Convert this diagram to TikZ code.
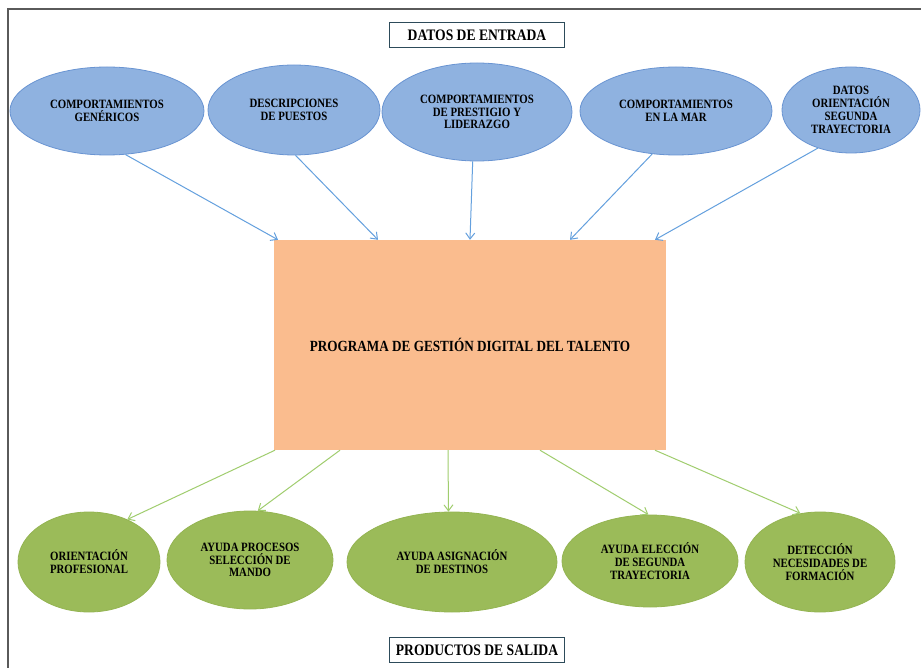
\documentclass[tikz,border=0pt]{standalone}
\usepackage{fontspec}
\newfontfamily\cf[FakeStretch=0.85]{Liberation Serif}
\usetikzlibrary{shapes.geometric,arrows.meta,calc}
\definecolor{bfill}{RGB}{143,178,224}
\definecolor{bdraw}{RGB}{105,148,210}
\definecolor{gfill}{RGB}{155,187,89}
\definecolor{gdraw}{RGB}{148,180,82}
\definecolor{ofill}{RGB}{250,188,142}
\definecolor{barrow}{RGB}{100,160,222}
\definecolor{garrow}{RGB}{160,205,110}
\definecolor{boxline}{RGB}{45,75,90}
\definecolor{framec}{RGB}{90,90,90}
\tikzset{
  ell/.style={ellipse, inner sep=0pt, align=center,
    font=\cf\bfseries\fontsize{12.7}{12.8}\selectfont},
  blue ell/.style={ell, fill=bfill, draw=bdraw, line width=0.8pt},
  green ell/.style={ell, fill=gfill, draw=gdraw, line width=0.8pt},
  titlebox/.style={draw=boxline, line width=1.5pt, fill=white, minimum width=175pt,
    minimum height=25pt, inner sep=0pt, font=\cf\bfseries\fontsize{16}{17}\selectfont},
  prog/.style={fill=ofill, minimum width=392pt, minimum height=210pt, inner sep=0pt,
    font=\cf\bfseries\fontsize{15.5}{16}\selectfont},
  inarrow/.style={draw=barrow, line width=1pt, -{Straight Barb[length=6pt,width=9pt]}},
  outarrow/.style={draw=garrow, line width=1pt, -{Straight Barb[length=6pt,width=9pt]}}
}
\begin{document}
\begin{tikzpicture}[x=1pt,y=-1pt]
\useasboundingbox (0,0) rectangle (921,668);
\fill[white] (0,0) rectangle (921,668);
\draw[framec, line width=1.3pt] (8,668) -- (8,9) -- (921,9);

\node[titlebox] (ent) at (477,35) {DATOS DE ENTRADA};
\node[titlebox] (sal) at (477,650) {PRODUCTOS DE SALIDA};

\node[blue ell, minimum width=194pt, minimum height=88pt] (b1) at (107,111) {COMPORTAMIENTOS\\GENÉRICOS};
\node[blue ell, minimum width=172pt, minimum height=90pt] (b2) at (294,110) {DESCRIPCIONES\\DE PUESTOS};
\node[blue ell, minimum width=190pt, minimum height=98pt] (b3) at (477,112) {COMPORTAMIENTOS\\DE PRESTIGIO Y\\LIDERAZGO};
\node[blue ell, minimum width=192pt, minimum height=88pt] (b4) at (676,111) {COMPORTAMIENTOS\\EN LA MAR};
\node[blue ell, minimum width=138pt, minimum height=86pt] (b5) at (851,110) {DATOS\\ORIENTACIÓN\\SEGUNDA\\TRAYECTORIA};

\node[prog] (prog) at (470,345) {PROGRAMA DE GESTIÓN DIGITAL DEL TALENTO};

\node[green ell, minimum width=142pt, minimum height=100pt] (g1) at (89,562) {ORIENTACIÓN\\PROFESIONAL};
\node[green ell, minimum width=166pt, minimum height=98pt] (g2) at (250,560) {AYUDA PROCESOS\\SELECCIÓN DE\\MANDO};
\node[green ell, minimum width=210pt, minimum height=100pt] (g3) at (452,562) {AYUDA ASIGNACIÓN\\DE DESTINOS};
\node[green ell, minimum width=176pt, minimum height=92pt] (g4) at (650,561) {AYUDA ELECCIÓN\\DE SEGUNDA\\TRAYECTORIA};
\node[green ell, minimum width=150pt, minimum height=100pt] (g5) at (820,562) {DETECCIÓN\\NECESIDADES DE\\FORMACIÓN};

\draw[inarrow] (b1.-67) -- ([xshift=-192pt]prog.north);
\draw[inarrow] (b2.-88) -- ([xshift=-92pt]prog.north);
\draw[inarrow] (b3.-95) -- (prog.north);
\draw[inarrow] (b4.-119) -- ([xshift=100pt]prog.north);
\draw[inarrow] (b5.-131) -- ([xshift=185pt]prog.north);

\draw[outarrow] ([xshift=-195pt]prog.south) -- (g1.48);
\draw[outarrow] ([xshift=-130pt]prog.south) -- (g2.81);
\draw[outarrow] ([xshift=-22pt]prog.south) -- (g3.94);
\draw[outarrow] ([xshift=70pt]prog.south) -- (g4.92);
\draw[outarrow] ([xshift=185pt]prog.south) -- (g5.112);
\end{tikzpicture}
\end{document}
